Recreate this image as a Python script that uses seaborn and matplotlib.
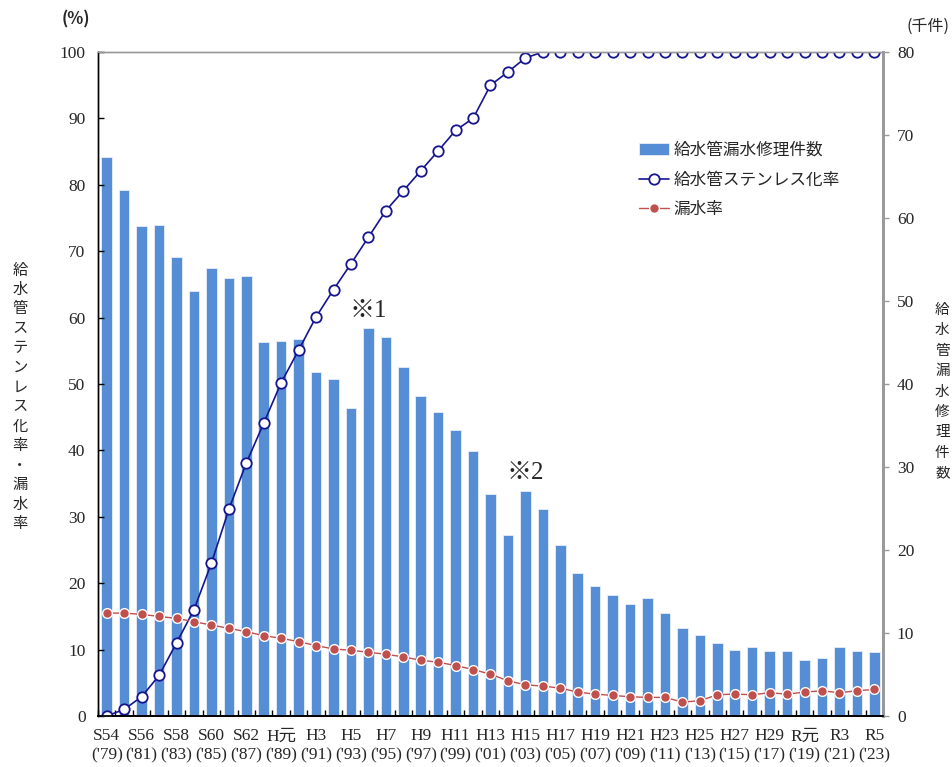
import numpy as np
import pandas as pd
import matplotlib
matplotlib.use("Agg")
import matplotlib.pyplot as plt
import seaborn as sns

# fiscal years (Showa / Heisei / Reiwa)
years = ["S54", "S55", "S56", "S57", "S58", "S59", "S60", "S61", "S62", "S63",
         "H元", "H2", "H3", "H4", "H5", "H6", "H7", "H8", "H9", "H10",
         "H11", "H12", "H13", "H14", "H15", "H16", "H17", "H18", "H19", "H20",
         "H21", "H22", "H23", "H24", "H25", "H26", "H27", "H28", "H29", "H30",
         "R元", "R2", "R3", "R4", "R5"]

# 給水管漏水修理件数 (千件, right axis)
repairs = [67.4, 63.4, 59.0, 59.1, 55.3, 51.2, 54.0, 52.8, 53.0, 45.0,
           45.2, 45.4, 41.5, 40.6, 37.1, 46.8, 45.7, 42.0, 38.5, 36.6,
           34.4, 31.9, 26.7, 21.8, 27.1, 24.9, 20.6, 17.2, 15.7, 14.6,
           13.5, 14.2, 12.4, 10.6, 9.8, 8.8, 8.0, 8.3, 7.8, 7.8,
           6.8, 7.0, 8.3, 7.8, 7.7]

# 給水管ステンレス化率 (%)
stainless = [0.0, 1.0, 2.9, 6.1, 11.0, 16.0, 23.0, 31.1, 38.1, 44.1,
             50.2, 55.1, 60.1, 64.2, 68.1, 72.1, 76.1, 79.1, 82.1, 85.1,
             88.2, 90.0, 95.0, 97.0, 99.1, 100, 100, 100, 100, 100,
             100, 100, 100, 100, 100, 100, 100, 100, 100, 100,
             100, 100, 100, 100, 100]

# 漏水率 (%)
leak = [15.5, 15.5, 15.3, 15.0, 14.7, 14.2, 13.7, 13.2, 12.7, 12.1,
        11.7, 11.2, 10.6, 10.1, 9.9, 9.6, 9.3, 8.9, 8.4, 8.1,
        7.6, 7.0, 6.3, 5.3, 4.7, 4.5, 4.2, 3.6, 3.3, 3.1,
        2.9, 2.8, 2.8, 2.1, 2.3, 3.2, 3.3, 3.2, 3.5, 3.3,
        3.6, 3.8, 3.5, 3.8, 4.0]

tick_labels = ["S54\n('79)", "S56\n('81)", "S58\n('83)", "S60\n('85)", "S62\n('87)",
               "H元\n('89)", "H3\n('91)", "H5\n('93)", "H7\n('95)", "H9\n('97)",
               "H11\n('99)", "H13\n('01)", "H15\n('03)", "H17\n('05)", "H19\n('07)",
               "H21\n('09)", "H23\n('11)", "H25\n('13)", "H27\n('15)", "H29\n('17)",
               "R元\n('19)", "R3\n('21)", "R5\n('23)"]

df = pd.DataFrame({"year": years, "repairs": repairs,
                   "stainless": stainless, "leak": leak})
df["pos"] = np.arange(len(df))

sns.set_theme(style="white")
serif = ["Liberation Serif", "Noto Sans CJK JP"]
cjk = ["Noto Sans CJK JP", "DejaVu Sans"]
plt.rcParams["font.family"] = serif

fig = plt.figure(figsize=(9.52, 7.67), dpi=100)
ax = fig.add_axes([98/952, 1-716/767, (883-98)/952, (716-52)/767])
axr = ax.twinx()

# bars on the right axis (behind the lines)
sns.barplot(data=df, x="year", y="repairs", order=years, color="#558ed5",
            width=0.6, edgecolor="#e8eef8", linewidth=0.6, saturation=1,
            label="給水管漏水修理件数", ax=axr)

ax.set_zorder(axr.get_zorder() + 1)
ax.patch.set_visible(False)

sns.lineplot(data=df, x="pos", y="stainless", color="#15158f", lw=1.2,
             marker="o", markersize=7.5, markerfacecolor="white",
             markeredgecolor="#15158f", markeredgewidth=1.3,
             label="給水管ステンレス化率", ax=ax)
sns.lineplot(data=df, x="pos", y="leak", color="#c0504d", lw=1.0,
             marker="o", markersize=7, markerfacecolor="#c0504d",
             markeredgecolor="white", markeredgewidth=1.0,
             label="漏水率", ax=ax)

for a in (ax, axr):
    if a.get_legend() is not None:
        a.get_legend().remove()
    a.set_xlabel("")
    a.set_ylabel("")

ax.set_xlim(-0.5, len(years) - 0.5)
ax.set_ylim(0, 100)
axr.set_ylim(0, 80)

ax.set_yticks(np.arange(0, 101, 10))
axr.set_yticks(np.arange(0, 81, 10))

ax.set_xticks(np.arange(0, len(years), 2))
ax.set_xticklabels(tick_labels, linespacing=1.25)
ax.set_xticks(np.arange(-0.5, len(years), 1), minor=True)
ax.tick_params(axis="x", which="major", length=0, pad=9, labelsize=12.5)
ax.tick_params(axis="x", which="minor", direction="in", length=4,
               width=1, color="black", bottom=True)
ax.tick_params(axis="y", direction="in", length=4, width=1, color="black",
               labelsize=12.5, pad=9, left=True)
axr.tick_params(axis="y", direction="out", length=4, width=1, color="#999999",
                labelsize=12.5, pad=6, right=True)

for a in (ax, axr):
    a.spines["left"].set_color("black")
    a.spines["bottom"].set_color("black")
    a.spines["bottom"].set_linewidth(1.3)
    a.spines["left"].set_linewidth(1.0)
    a.spines["top"].set_color("#999999")
    a.spines["top"].set_linewidth(1.0)
    a.spines["right"].set_color("#999999")
    a.spines["right"].set_linewidth(2.0)
    a.spines["top"].set_visible(True)
    a.spines["right"].set_visible(True)
    a.grid(False)

# legend combining both axes
h1, l1 = axr.get_legend_handles_labels()
h2, l2 = ax.get_legend_handles_labels()
fig.legend(h1 + h2, l1 + l2, loc="upper left",
           bbox_to_anchor=(639/952, 1-142/767), frameon=False,
           prop={"family": cjk, "size": 12}, handlelength=1.8,
           handletextpad=0.25, labelspacing=0.75, borderpad=0, borderaxespad=0)

# units
fig.text(76/952, 1-19/767, "(%)", ha="center", va="center",
         fontsize=12, family=cjk, fontweight="bold")
fig.text(950/952, 1-26/767, "(千件)", ha="right", va="center",
         fontsize=11.5, family=cjk)

# vertical axis titles, one character per line
left_title = "給水管ステンレス化率・漏水率"
for i, ch in enumerate(left_title):
    fig.text(20/952, 1-(270 + 19.5*i)/767, ch, ha="center", va="center",
             fontsize=11, family=cjk)
right_title = "給水管漏水修理件数"
for i, ch in enumerate(right_title):
    fig.text(935/952, 1-(310 + 20.4*i)/767, ch, ha="left", va="center",
             fontsize=10.5, family=cjk)

# notes
ax.text(15, 61.0, "※1", ha="center", va="center", fontsize=18, family=serif)
ax.text(24, 36.6, "※2", ha="center", va="center", fontsize=18, family=serif)

fig.savefig("out.png", dpi=100)
